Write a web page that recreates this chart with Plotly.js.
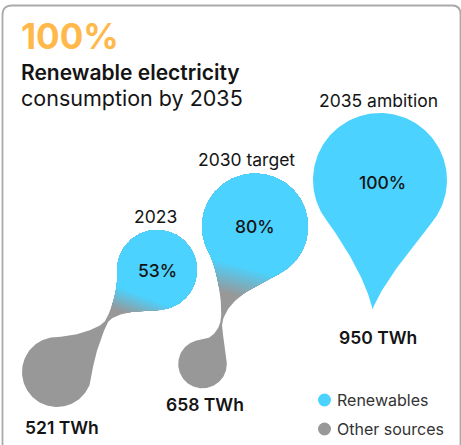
<!DOCTYPE html>
<html><head><meta charset="utf-8">
<script src="https://cdn.plot.ly/plotly-3.0.1.min.js"></script>
<style>html,body{margin:0;padding:0;background:#fff}#chart{width:461px;height:445px}</style>
</head><body><div id="chart"></div>
<script>
// ---------------- data ----------------
const periods = ['2023', '2030 target', '2035 ambition'];
const consumptionTWh = [521, 658, 950];
const renewableSharePct = [53, 80, 100];
const seriesNames = ['Renewables', 'Other sources'];
const headline = ['100%', 'Renewable electricity', 'consumption by 2035'];

// ---------------- styles ----------------
const BLUE = [76, 210, 254];
const GREY = [152, 152, 152];
const ORANGE = '#FFB84A';
const INK = '#141414';
const FONT = 'Inter, "Open Sans", sans-serif';
const rgb = c => 'rgb(' + c.map(Math.round).join(',') + ')';
const mix = (a, b, t) => a.map((v, i) => v + (b[i] - v) * t);

// ---------------- layout geometry (axis units = pixels) ----------------
// two-circle blobs: blue circle (renewables) joined to grey circle (other sources)
const blobGeom = [
  { blue: {c: [157, 270], r: 40}, grey: {c: [57, 372], r: 35},
    arcBlue: [175, 450], arcGrey: [5, 268],
    waistB: {p: [107.5, 323], d: [-0.45, 0.89], h: 9}, hB: [25, 18],
    waistA: {p: [105, 321], d: [0.55, -0.835], h: 8}, hA: [22, 18],
    grad: {u: [-0.35, 0.937], d0: 228, d1: 250},
    lblYear: [155, 216], lblTWh: [62, 427] },
  { blue: {c: [255, 226.5], r: 53}, grey: {c: [202.5, 364], r: 24.3},
    arcBlue: [150, 415], arcGrey: [0, 268],
    waistB: {p: [222.5, 321.5], d: [-0.25, 0.97], h: 30, h2: 8}, hB: [20, 14],
    waistA: {p: [220.8, 319.5], d: [0.12, -0.99], h: 10, h2: 18}, hA: [10, 15],
    grad: {u: [-0.25, 0.968], d0: 198, d1: 228},
    lblYear: [246.5, 159], lblTWh: [205, 404] }
];
// drop (100% renewables)
const dropGeom = { c: [380, 180], r: 67, tip: [372.5, 309.5], aL: 143, aR: 37,
  hR: [25, 30], dTipR: [-0.35, 0.94], hL: [30, 25], dTipL: [-0.2, -0.98],
  lblYear: [378, 100], lblTWh: [378, 337] };

// ---------------- geometry helpers ----------------
const rad = a => a * Math.PI / 180;
const cpt = (C, a) => [C.c[0] + C.r * Math.cos(rad(a)), C.c[1] + C.r * Math.sin(rad(a))];
const ctan = a => [-Math.sin(rad(a)), Math.cos(rad(a))];
const add = (p, v, s) => [p[0] + v[0] * s, p[1] + v[1] * s];
function arc(C, a0, a1) {
  const pts = [], n = Math.max(8, Math.ceil(Math.abs(a1 - a0) / 2));
  for (let i = 0; i <= n; i++) pts.push(cpt(C, a0 + (a1 - a0) * i / n));
  return pts;
}
function cubic(p0, c1, c2, p3, n) {
  n = n || 40; const pts = [];
  for (let i = 1; i <= n; i++) {
    const t = i / n, m = 1 - t;
    const a = m * m * m, b = 3 * m * m * t, c = 3 * m * t * t, d = t * t * t;
    pts.push([a * p0[0] + b * c1[0] + c * c2[0] + d * p3[0], a * p0[1] + b * c1[1] + c * c2[1] + d * p3[1]]);
  }
  return pts;
}
function blobOutline(g) {
  let pts = arc(g.blue, g.arcBlue[0], g.arcBlue[1]);
  const s = cpt(g.blue, g.arcBlue[1]), e = cpt(g.grey, g.arcGrey[0]);
  const wB = g.waistB;
  pts = pts.concat(cubic(s, add(s, ctan(g.arcBlue[1]), g.hB[0]), add(wB.p, wB.d, -wB.h), wB.p));
  pts = pts.concat(cubic(wB.p, add(wB.p, wB.d, wB.h2 || wB.h), add(e, ctan(g.arcGrey[0]), -g.hB[1]), e));
  pts = pts.concat(arc(g.grey, g.arcGrey[0], g.arcGrey[1]));
  const s2 = cpt(g.grey, g.arcGrey[1]), e2 = cpt(g.blue, g.arcBlue[0]);
  const wA = g.waistA;
  pts = pts.concat(cubic(s2, add(s2, ctan(g.arcGrey[1]), g.hA[0]), add(wA.p, wA.d, -wA.h), wA.p));
  pts = pts.concat(cubic(wA.p, add(wA.p, wA.d, wA.h2 || wA.h), add(e2, ctan(g.arcBlue[0]), -g.hA[1]), e2));
  return pts;
}
function dropOutline(g) {
  const C = {c: g.c, r: g.r};
  let pts = arc(C, g.aL, g.aR + 360);
  const pr = cpt(C, g.aR), pl = cpt(C, g.aL);
  pts = pts.concat(cubic(pr, add(pr, ctan(g.aR), g.hR[0]), add(g.tip, g.dTipR, -g.hR[1]), g.tip));
  pts = pts.concat(cubic(g.tip, add(g.tip, g.dTipL, g.hL[0]), add(pl, ctan(g.aL), -g.hL[1]), pl));
  return pts;
}
function clipHalf(poly, u, t) {
  const out = [], n = poly.length;
  for (let i = 0; i < n; i++) {
    const P = poly[i], Q = poly[(i + 1) % n];
    const dp = P[0] * u[0] + P[1] * u[1] - t, dq = Q[0] * u[0] + Q[1] * u[1] - t;
    if (dp <= 0) out.push(P);
    if ((dp <= 0) !== (dq <= 0)) {
      const k = dp / (dp - dq);
      out.push([P[0] + k * (Q[0] - P[0]), P[1] + k * (Q[1] - P[1])]);
    }
  }
  return out;
}
function polyTrace(poly, color, name) {
  const xs = poly.map(p => p[0]), ys = poly.map(p => p[1]);
  xs.push(xs[0]); ys.push(ys[0]);
  return {type: 'scatter', mode: 'lines', x: xs, y: ys, fill: 'toself', fillcolor: color,
    line: {width: 0, color: 'rgba(0,0,0,0)'}, hoverinfo: 'skip', showlegend: false, name: name};
}

// ---------------- build traces ----------------
const traces = [];
const annotations = [];
const STEPS = 26;
const yearFont = {size: 17.5, color: INK, family: FONT};
const pctFont = {size: 17.5, color: INK, family: FONT, weight: 500};
const twhFont = {size: 17.5, color: INK, family: FONT, weight: 600};
blobGeom.forEach((g, i) => {
  const outline = blobOutline(g);
  traces.push(polyTrace(outline, rgb(GREY), seriesNames[1] + ' ' + periods[i]));
  for (let k = STEPS - 1; k >= 0; k--) {
    const t = g.grad.d0 + (g.grad.d1 - g.grad.d0) * k / STEPS;
    const part = clipHalf(outline, g.grad.u, t);
    if (part.length > 2) traces.push(polyTrace(part, rgb(mix(BLUE, GREY, k / STEPS)), seriesNames[0] + ' ' + periods[i]));
  }
  annotations.push({x: g.lblYear[0], y: g.lblYear[1], text: periods[i], font: yearFont});
  annotations.push({x: g.blue.c[0], y: g.blue.c[1], text: renewableSharePct[i] + '%', font: pctFont});
  annotations.push({x: g.lblTWh[0], y: g.lblTWh[1], text: consumptionTWh[i] + ' TWh', font: twhFont});
});
traces.push(polyTrace(dropOutline(dropGeom), rgb(BLUE), seriesNames[0] + ' ' + periods[2]));
annotations.push({x: dropGeom.lblYear[0], y: dropGeom.lblYear[1], text: periods[2], font: yearFont});
annotations.push({x: dropGeom.c[0] + 2, y: dropGeom.c[1] + 2, text: renewableSharePct[2] + '%', font: pctFont});
annotations.push({x: dropGeom.lblTWh[0], y: dropGeom.lblTWh[1], text: consumptionTWh[2] + ' TWh', font: twhFont});

// headline
annotations.push({x: 19, y: 36, xanchor: 'left', text: headline[0], font: {size: 35, color: ORANGE, family: FONT, weight: 700}});
annotations.push({x: 19, y: 72, xanchor: 'left', text: headline[1], font: {size: 21, color: INK, family: FONT, weight: 600}});
annotations.push({x: 19, y: 98, xanchor: 'left', text: headline[2], font: {size: 21.5, color: INK, family: FONT, weight: 400}});

// legend
const legendPos = [[324.5, 400], [324.5, 429]];
const legendCols = [rgb(BLUE), rgb(GREY)];
const shapes = [
  {type: 'path', xref: 'x', yref: 'y', path: 'M 2.5 446 L 2.5 15 Q 2.5 5.5 12 5.5 L 452 5.5 Q 460.5 5.5 460.5 14 L 460.5 446',
   line: {color: '#aaaaaa', width: 1.8}, layer: 'below'}
];
seriesNames.forEach((nm, i) => {
  const [x, y] = legendPos[i];
  shapes.push({type: 'circle', xref: 'x', yref: 'y', x0: x - 6.5, x1: x + 6.5, y0: y - 6.5, y1: y + 6.5,
    fillcolor: legendCols[i], line: {width: 0}});
  annotations.push({x: x + 10, y: y, xanchor: 'left', text: nm, font: {size: 16, color: '#333333', family: FONT}});
});
annotations.forEach(a => { a.xref = 'x'; a.yref = 'y'; a.showarrow = false; if (!a.xanchor) a.xanchor = 'center'; a.yanchor = 'middle'; });

const layout = {
  width: 461, height: 445, margin: {l: 0, r: 0, t: 0, b: 0},
  paper_bgcolor: '#ffffff', plot_bgcolor: '#ffffff', showlegend: false,
  xaxis: {range: [0, 461], visible: false, fixedrange: true},
  yaxis: {range: [445, 0], visible: false, fixedrange: true},
  shapes: shapes, annotations: annotations, hovermode: false
};
Plotly.newPlot('chart', traces, layout, {displayModeBar: false, staticPlot: true});
</script></body></html>
